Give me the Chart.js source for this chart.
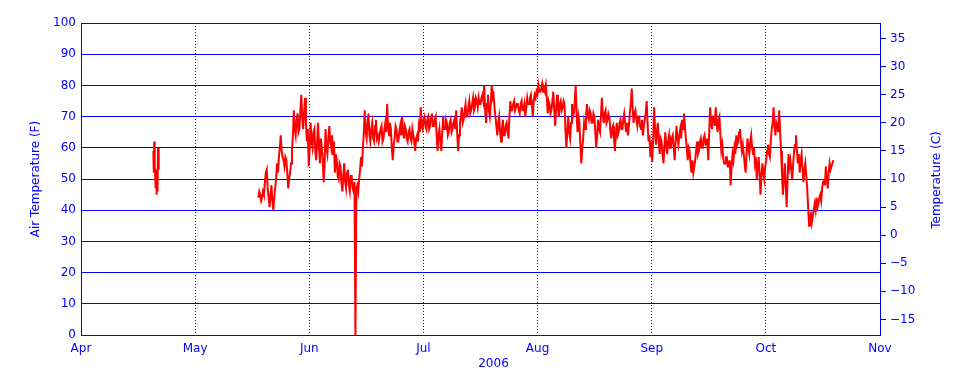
<!DOCTYPE html>
<html>
<head>
<meta charset="utf-8">
<script src="https://cdn.jsdelivr.net/npm/chart.js@4"></script>
<style>
  html, body { margin: 0; padding: 0; background: #fff; }
</style>
</head>
<body>
<canvas id="c" width="960" height="384"></canvas>
<script>
const BLUE = '#0000ff';
const RED = '#ff0000';

// axis labels
const monthLabels = ['Apr', 'May', 'Jun', 'Jul', 'Aug', 'Sep', 'Oct', 'Nov'];
const yearLabel = '2006';
const fTicks = [0, 10, 20, 30, 40, 50, 60, 70, 80, 90, 100];
const cTicks = [-15, -10, -5, 0, 5, 10, 15, 20, 25, 30, 35];
const xSpanDays = 214; // 1 Apr -> 1 Nov

// air temperature (F), x in days after 1 Apr 2006
const seg1Start = 19.375, seg1Step = 0.125;
const seg1Temp = [59, 52, 62, 54, 51, 47, 53, 45, 49, 46, 60, 55, 53];

// main readings every half day from seg2Start
const seg2Start = 47.5, seg2Step = 0.5;
const seg2Temp = [
  44, 45, 44, 45, 52, 47, 41, 48, 40, 47, 55, 57, 64, 57, 54, 56, 47, 52, 59, 72,
  64, 71, 66, 77, 66, 76, 62, 54, 68, 60, 66, 56, 68, 55, 60, 49, 66, 58, 67, 60,
  58, 52, 56, 50, 54, 46, 55, 47, 53, 46, 51, 46, 0, 48, 50, 57, 60, 72, 63, 71,
  62, 68, 62, 69, 64,
  // mid Jun - Jul
  64, 67, 63, 68, 74, 64, 66, 56, 63, 66, 62, 67, 70, 63, 66, 62, 66, 62, 64, 59,
  64, 67, 73, 66, 70, 66, 70, 67, 71, 67, 70, 59, 66, 59, 70, 66, 68, 65, 69, 66,
  69, 72, 59, 68, 73, 69, 74, 70, 75, 72, 76, 73, 75, 76, 74, 77, 80, 68, 77, 70,
  80, 77, 70, 64, 70, 62, 69, 64, 68, 63, 75, 72, 75, 72, 74, 71, 75, 72, 70, 76,
  74, 77, 70, 77, 78, 80, 78, 80.5, 79, 80,
  // Aug - early Sep
  71, 74, 72, 78, 67, 77, 70, 75, 73, 74, 60, 70, 63, 74, 71, 80, 65, 68, 55, 63,
  66, 74, 69, 71, 68, 70, 60, 69, 65, 76, 68, 72, 69, 70, 63, 67, 59, 68, 65, 69,
  66, 71, 65, 64, 71, 79, 68, 72, 67, 70, 66, 64, 69, 75, 62, 57, 55.5, 73, 61, 68,
  58, 62, 55, 65, 58, 64, 60, 64, 56, 67, 61, 66, 69, 71, 63, 56, 59, 52, 52, 56,
  62, 59, 63, 60, 64, 61,
  // late Sep - Oct
  56, 73, 66, 70, 73, 65, 70, 59, 57, 55, 57, 54, 48, 58, 60, 64, 62, 66, 59, 58,
  52, 63, 58, 64, 58, 55, 50, 57, 45, 55, 50, 56, 61, 57, 66, 73, 64, 67, 72, 59,
  45, 55, 41, 58, 56, 50, 59, 64, 55, 52, 58, 49, 55, 47, 35, 39, 38, 42, 44, 42,
  45, 47, 50, 54, 47, 55, 54, 56
];

// readings a quarter day after each main reading (other side of the daily swing)
const seg2MidTemp = [
  46, 43, 46, 49, 53, 44, 45, 43, 44, 50, 52, 60, 59, 56, 57, 52, 50, 55, 64, 66,
  69, 65, 72, 70, 71, 68, 66, 60, 62, 65, 59, 62, 60, 63, 56, 55, 60, 63, 62, 64,
  62, 58, 51, 55, 49, 51, 49, 52, 48, 51, 47, 49, 47, 46, 53, 54, 65, 65, 68, 64,
  66, 63, 67, 63, 62,
  66, 62, 66, 65, 67, 68, 60, 61, 67, 62, 65, 64, 65, 67, 63, 65, 63, 66, 62, 63,
  62, 65, 67, 69, 67, 69, 66, 70, 67, 69, 64, 64, 62, 65, 66, 69, 64, 68, 65, 68,
  66, 65, 64, 70, 68, 72, 70, 73, 71, 74, 72, 76, 73, 74, 76, 75, 72, 74, 72, 74,
  76, 73, 67, 68, 65, 66, 64, 67, 65, 70, 72, 74, 72, 74, 72, 74, 72, 74, 73, 74,
  76, 74, 75, 76, 77, 78, 79, 78, 78, 76,
  75, 71, 75, 72, 72, 73, 74, 72, 75, 66, 65, 65, 68, 70, 75, 70, 70, 61, 60, 68,
  70, 70, 72, 68, 71, 65, 64, 66, 70, 71, 71, 68, 71, 66, 66, 63, 64, 64, 68, 66,
  69, 68, 68, 67, 74, 73, 71, 69, 70, 67, 69, 67, 71, 68, 64, 62, 63, 66, 65, 62,
  63, 58, 60, 61, 62, 60, 63, 60, 62, 63, 64, 63, 66, 67, 60, 60, 55, 56, 54, 59,
  58, 62, 60, 63, 61, 63,
  65, 68, 70, 67, 68, 69, 64, 61, 55, 57, 54, 56, 54, 56, 58, 61, 65, 62, 61, 55,
  58, 60, 62, 60, 60, 57, 54, 52, 51, 52, 54, 59, 58, 62, 68, 67, 68, 65, 65, 52,
  50, 48, 50, 54, 53, 55, 61, 59, 58, 56, 53, 53, 51, 41, 38, 36, 40, 40, 41, 44,
  43, 49, 48, 50, 52, 53, 55
];

function buildPoints() {
  const pts = seg1Temp.map((v, i) => ({ x: seg1Start + i * seg1Step, y: v }));
  pts.push({ x: (seg1Start + seg2Start) / 2, y: null });
  const seg2 = seg2Temp.map((v, i) => ({ x: seg2Start + i * seg2Step, y: v }))
    .concat(seg2MidTemp.map((v, i) => ({ x: seg2Start + seg2Step / 2 + i * seg2Step, y: v })));
  seg2.sort((a, b) => a.x - b.x);
  return pts.concat(seg2);
}

const fToC = f => (f - 32) * 5 / 9;

const extraText = {
  id: 'extraText',
  afterDraw(chart) {
    const { ctx, chartArea } = chart;
    const midY = (chartArea.top + chartArea.bottom) / 2;
    ctx.save();
    ctx.fillStyle = BLUE;
    ctx.font = '12px "DejaVu Sans"';
    ctx.textAlign = 'center';
    ctx.textBaseline = 'middle';
    ctx.fillText(yearLabel, (chartArea.left + chartArea.right) / 2 + 13, 364);
    ctx.translate(36, midY);
    ctx.rotate(-Math.PI / 2);
    ctx.fillText('Air Temperature (F)', 0, 0);
    ctx.restore();
    ctx.save();
    ctx.fillStyle = BLUE;
    ctx.font = '12px "DejaVu Sans"';
    ctx.textAlign = 'center';
    ctx.textBaseline = 'middle';
    ctx.translate(937, midY + 1);
    ctx.rotate(-Math.PI / 2);
    ctx.fillText('Temperature (C)', 0, 0);
    ctx.restore();
  }
};

Chart.defaults.font.family = '"DejaVu Sans"';
Chart.defaults.font.size = 12;
Chart.defaults.color = BLUE;

new Chart(document.getElementById('c'), {
  type: 'line',
  data: {
    datasets: [{
      data: buildPoints(),
      borderColor: RED,
      borderWidth: 2,
      pointRadius: 0,
      tension: 0,
      spanGaps: false,
      yAxisID: 'y'
    }]
  },
  options: {
    responsive: false,
    animation: false,
    layout: { padding: { top: 23, left: 0, right: 0, bottom: 0 } },
    plugins: { legend: { display: false }, tooltip: { enabled: false } },
    scales: {
      x: {
        type: 'linear',
        min: 0,
        max: xSpanDays,
        afterBuildTicks: s => {
          s.ticks = monthLabels.map((_, i) => ({ value: i * xSpanDays / (monthLabels.length - 1) }));
        },
        afterFit: s => { s.height = 49; },
        ticks: {
          color: BLUE,
          padding: 7,
          maxRotation: 0,
          autoSkip: false,
          callback: (v, i) => monthLabels[i]
        },
        grid: { color: BLUE, lineWidth: 1, drawTicks: false },
        border: { color: BLUE, width: 1, dash: [1, 2] }
      },
      y: {
        position: 'left',
        min: 0,
        max: 100,
        afterBuildTicks: s => { s.ticks = fTicks.map(v => ({ value: v })); },
        afterFit: s => { s.width = 81; },
        ticks: { color: BLUE, padding: 5 },
        grid: { color: BLUE, lineWidth: 1, drawTicks: false },
        border: { color: BLUE, width: 1 }
      },
      yc: {
        position: 'right',
        min: fToC(0),
        max: fToC(100),
        afterBuildTicks: s => { s.ticks = cTicks.map(v => ({ value: v })); },
        afterFit: s => { s.width = 80; },
        ticks: {
          color: BLUE,
          padding: 4,
          callback: v => (v < 0 ? '\u2212' + Math.abs(v) : String(v))
        },
        grid: { color: BLUE, lineWidth: 1, drawOnChartArea: false, drawTicks: true, tickLength: 6 },
        border: { color: BLUE, width: 1 }
      }
    }
  },
  plugins: [extraText]
});
</script>
</body>
</html>
